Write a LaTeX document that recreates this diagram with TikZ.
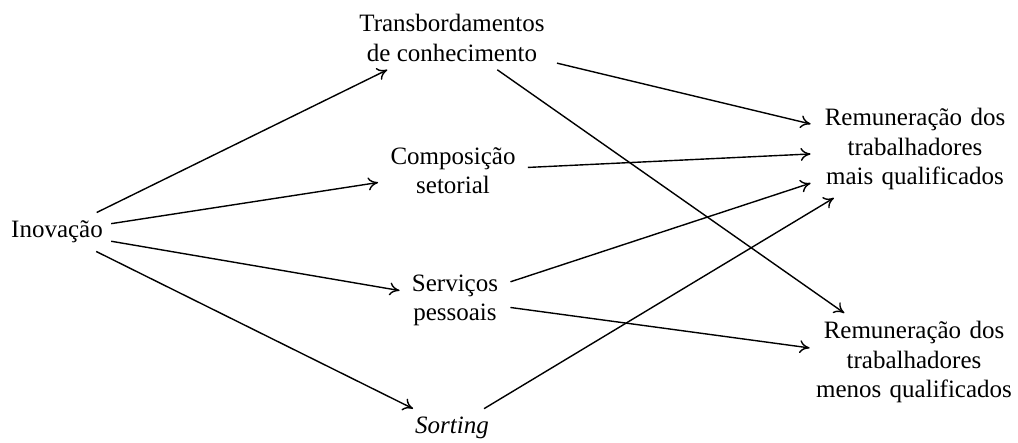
\documentclass[tikz,border=0pt]{standalone}
\usepackage{fontspec}
\setmainfont{Liberation Serif}
\usetikzlibrary{arrows.meta}
\begin{document}
\begin{tikzpicture}[x=0.5pt,y=-0.5pt,
  lbl/.style={align=center,inner xsep=6pt,inner ysep=4pt,font=\fontsize{12.5}{14.6}\selectfont},
  rlbl/.style={lbl,text width=100pt,inner xsep=2pt},
  arr/.style={line width=0.7pt,-{To[length=5pt,width=6.5pt]}}]
\useasboundingbox (0,0) rectangle (1018,443);
\node[lbl,inner xsep=4pt] (ino) at (57,232) {Inovação};
\node[lbl] (tra) at (452,38) {Transbordamentos\\de conhecimento};
\node[lbl] (com) at (453,171) {Composição\\setorial};
\node[lbl] (ser) at (455,300) {Serviços\\pessoais};
\node[lbl] (sor) at (452,428) {\itshape Sorting};
\node[rlbl] (mai) at (915,149) {Remuneração dos\\trabalhadores\\mais qualificados};
\node[rlbl] (men) at (914,362) {Remuneração dos\\trabalhadores\\menos qualificados};
\draw[arr] (ino) -- (tra);
\draw[arr] (ino) -- (com);
\draw[arr] (ino) -- (ser);
\draw[arr] (ino) -- (sor);
\draw[arr] (tra) -- (mai);
\draw[arr] (tra) -- (men);
\draw[arr] (com) -- (mai);
\draw[arr] (ser) -- (mai);
\draw[arr] (ser) -- (men);
\draw[arr] (sor) -- (mai);
\end{tikzpicture}
\end{document}
